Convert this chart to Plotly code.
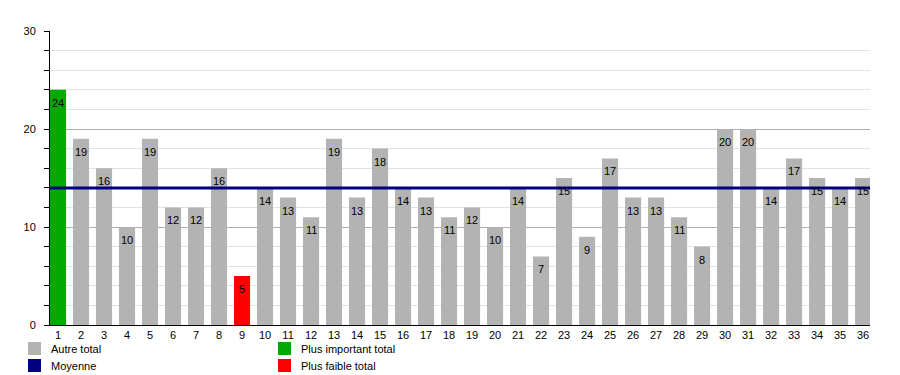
import plotly.graph_objects as go

categories = list(range(1, 37))
values = [24, 19, 16, 10, 19, 12, 12, 16, 5, 14, 13, 11, 19, 13, 18, 14, 13, 11,
          12, 10, 14, 7, 15, 9, 17, 13, 13, 11, 8, 20, 20, 14, 17, 15, 14, 15]
legend_labels = ["Autre total", "Moyenne", "Plus important total", "Plus faible total"]

GRAY = "#b3b3b3"
GREEN = "#00aa00"
RED = "#ff0000"
NAVY = "#000080"

vmax, vmin = max(values), min(values)
colors = [GREEN if v == vmax else (RED if v == vmin else GRAY) for v in values]
mean = sum(values) / len(values)

OFF = 8  # page body margin
W, H = 900 - OFF, 375 - OFF
# plot area in window pixels: x 50..870, y 31..325
L, T = 50 - OFF, 31 - OFF
R = W - (870 - OFF)
B = H - (325 - OFF)
pw, ph = W - L - R, H - T - B

def px_x(p):
    return (p - OFF - L) / pw

def px_y(p):
    return (H - B - (p - OFF)) / ph

FONT = "Liberation Sans, Arial, sans-serif"

fig = go.Figure()
fig.add_trace(go.Bar(x=categories, y=values, marker=dict(color=colors, line=dict(width=0)),
                     width=0.7, hoverinfo="x+y", showlegend=False))

annotations = []
for c, v in zip(categories, values):
    annotations.append(dict(x=c, y=v, text=str(v), showarrow=False, yshift=-13,
                            xanchor="center", yanchor="middle",
                            font=dict(size=11, color="#000000", family=FONT)))

shapes = [dict(type="line", xref="paper", x0=0, x1=1, yref="y", y0=mean, y1=mean,
               line=dict(color=NAVY, width=3), layer="above")]

# manual legend (window pixel positions)
leg = [(legend_labels[0], GRAY, 28, 342), (legend_labels[1], NAVY, 28, 359),
       (legend_labels[2], GREEN, 278, 342), (legend_labels[3], RED, 278, 359)]
for txt, col, x0, y0 in leg:
    shapes.append(dict(type="rect", xref="paper", yref="paper",
                       x0=px_x(x0), x1=px_x(x0 + 13), y0=px_y(y0), y1=px_y(y0 + 13),
                       fillcolor=col, line=dict(width=0), layer="above"))
    annotations.append(dict(xref="paper", yref="paper", x=px_x(x0 + 21), y=px_y(y0 + 7),
                            text=txt, showarrow=False, xanchor="left", yanchor="middle",
                            font=dict(size=11, color="#000000", family=FONT)))

fig.update_layout(
    width=W, height=H,
    margin=dict(l=L, r=R, t=T, b=B, pad=0),
    plot_bgcolor="white", paper_bgcolor="white",
    font=dict(family=FONT, size=11, color="#000000"),
    bargap=0.3,
    shapes=shapes, annotations=annotations,
    xaxis=dict(range=[0.652, 36.3], tickmode="array", tickvals=categories,
               ticktext=[str(c) for c in categories], showgrid=False,
               showline=True, linecolor="#000000", linewidth=1, ticks="",
               zeroline=False, fixedrange=True, tickfont=dict(size=11)),
    yaxis=dict(range=[0, 30], tickvals=[0, 10, 20, 30], showgrid=True,
               gridcolor="#b0b0b0", gridwidth=1, showline=True, linecolor="#000000",
               linewidth=1, ticks="outside", ticklen=5, tickcolor="#000000",
               ticklabelstandoff=6,
               zeroline=False, fixedrange=True, tickfont=dict(size=11),
               minor=dict(dtick=2, ticks="outside", ticklen=5, tickcolor="#000000",
                          showgrid=True, gridcolor="#e3e3e3", gridwidth=1)),
)

fig.write_html("out.html")
